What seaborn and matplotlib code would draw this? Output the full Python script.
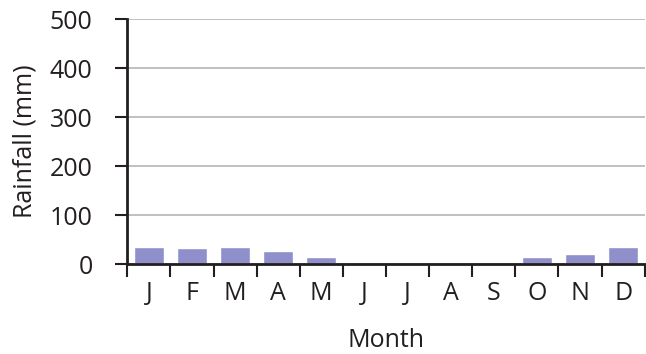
import numpy as np
import pandas as pd
import matplotlib
matplotlib.use("Agg")
import matplotlib.pyplot as plt
import seaborn as sns

months = ["J", "F", "M", "A", "M", "J", "J", "A", "S", "O", "N", "D"]
rainfall = [35, 33, 35, 27, 14, 0, 0, 0, 0, 14, 21, 35]
yticks = [0, 100, 200, 300, 400, 500]

sns.set_theme(style="white")
plt.rcParams["font.family"] = ["Open Sans", "DejaVu Sans"]

df = pd.DataFrame({"idx": range(len(months)), "rain": rainfall})

fig = plt.figure(figsize=(6.46, 3.54), dpi=100)
ax = fig.add_axes([0.197, 0.254, 0.801, 0.692])

sns.barplot(data=df, x="idx", y="rain", color="#8f8fcc", saturation=1,
            width=0.7, ax=ax, zorder=3)

ink = "#231f20"
ax.set_ylim(0, 500)
ax.set_xlim(-0.5, len(months) - 0.5)
ax.set_yticks(yticks)
ax.set_yticklabels([str(v) for v in yticks], fontsize=18, color=ink)
ax.set_xticks(range(len(months)))
ax.set_xticklabels(months, fontsize=18, color=ink)
ax.set_xticks(np.arange(-0.5, len(months)), minor=True)
ax.tick_params(axis="x", which="major", length=0, pad=12)
ax.tick_params(axis="x", which="minor", length=9, width=1.5, color=ink,
               direction="out", bottom=True)
ax.tick_params(axis="y", length=9, width=1.5, color=ink, direction="out",
               left=True, pad=16)

ax.yaxis.grid(True, color="#b5b5b5", linewidth=1.2, zorder=0)
ax.xaxis.grid(False)
for s in ["top", "right"]:
    ax.spines[s].set_visible(False)
for s in ["left", "bottom"]:
    ax.spines[s].set_color(ink)
    ax.spines[s].set_linewidth(2)
    ax.spines[s].set_zorder(4)

ax.set_xlabel("Month", fontsize=18, color=ink, labelpad=16)
ax.set_ylabel("Rainfall (mm)", fontsize=18, color=ink, labelpad=9)

fig.savefig("out.png", dpi=100)
